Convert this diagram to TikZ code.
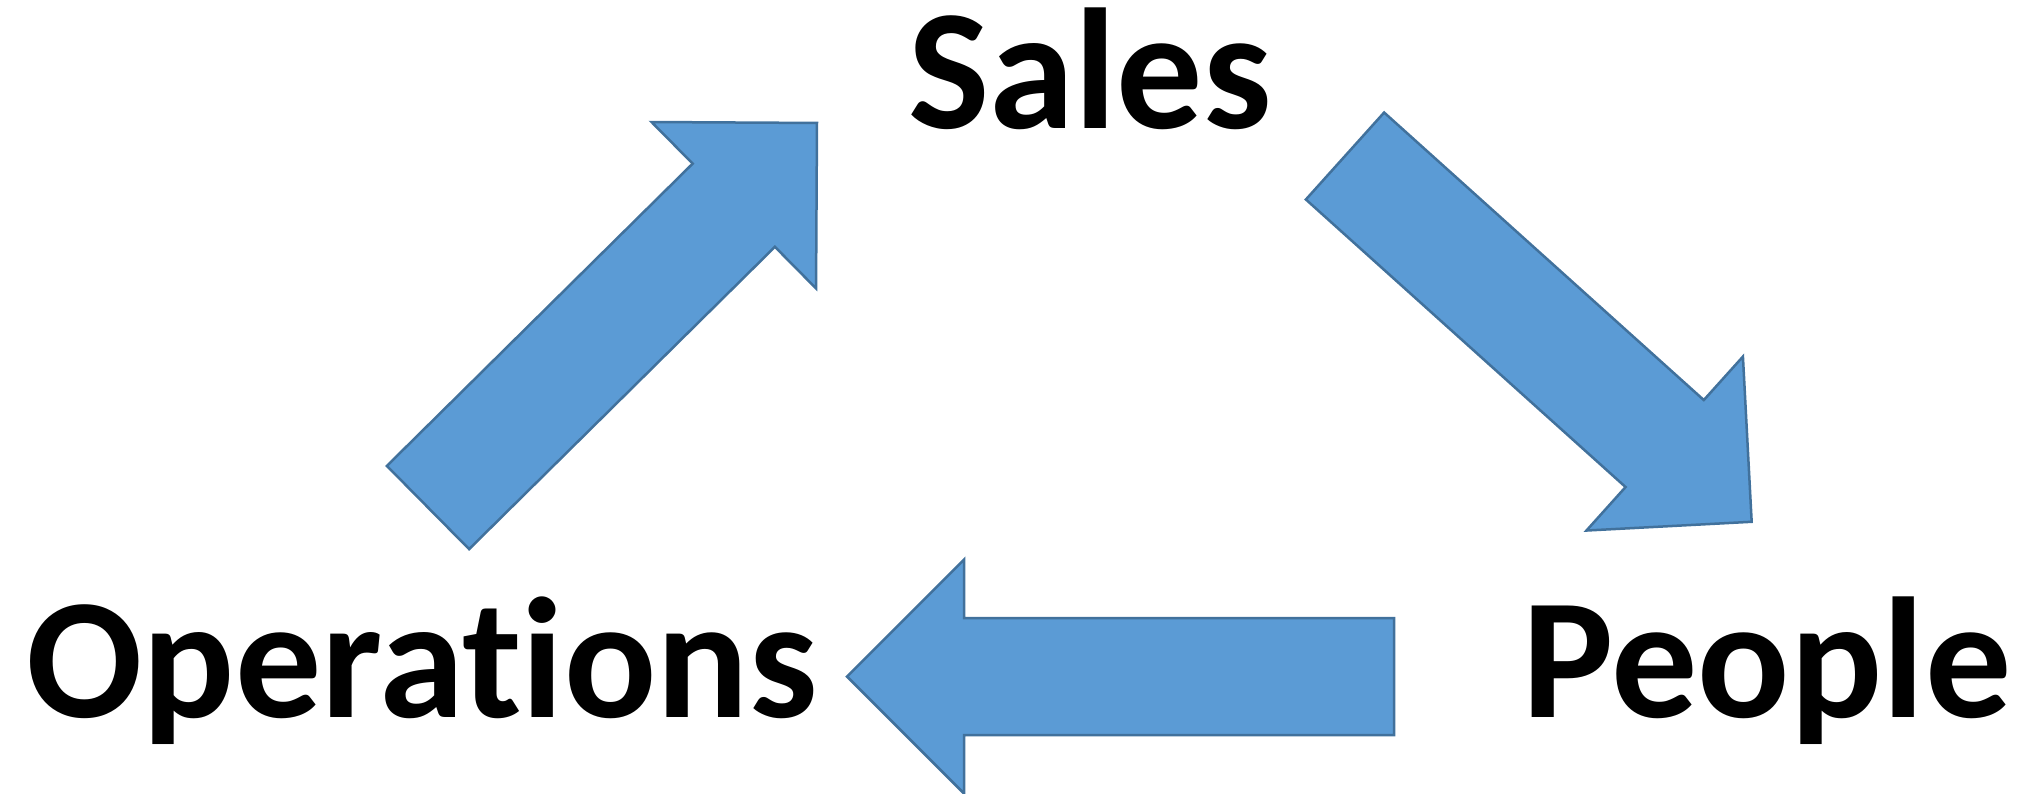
\documentclass[tikz,border=0pt]{standalone}
\usepackage{fontspec}
\setmainfont{Carlito}[Ligatures={NoCommon,NoContextual}]
\definecolor{arrfill}{HTML}{5B9BD5}
\definecolor{arrline}{HTML}{41719C}
\begin{document}
\begin{tikzpicture}[x=1pt, y=-1pt,
  lbl/.style={inner sep=0, anchor=base, font=\fontsize{172}{200}\selectfont\bfseries},
  blk/.style={draw=arrline, fill=arrfill, line width=2.5pt, line join=miter}]
\useasboundingbox (0,0) rectangle (2022,793);
\node[lbl] (sales) at (1090,128){Sales};
\node[lbl] (people) at (1767,717){People};
\node[lbl] (ops) at (422,717){Operations};
\draw[blk, shift={(428,507.5)}, rotate=44.67] (0,-58.5) -- (430,-58.5) -- (430,-117) -- (547,0) -- (430,117) -- (430,58.5) -- (0,58.5) -- cycle;
\draw[blk, shift={(1345,156)}, rotate=-41.97] (0,-58.5) -- (430,-58.5) -- (430,-117) -- (547,0) -- (430,117) -- (430,58.5) -- (0,58.5) -- cycle;
\draw[blk, shift={(1394,676.5)}, rotate=180] (0,-58.5) -- (430,-58.5) -- (430,-117) -- (547,0) -- (430,117) -- (430,58.5) -- (0,58.5) -- cycle;
\end{tikzpicture}
\end{document}
